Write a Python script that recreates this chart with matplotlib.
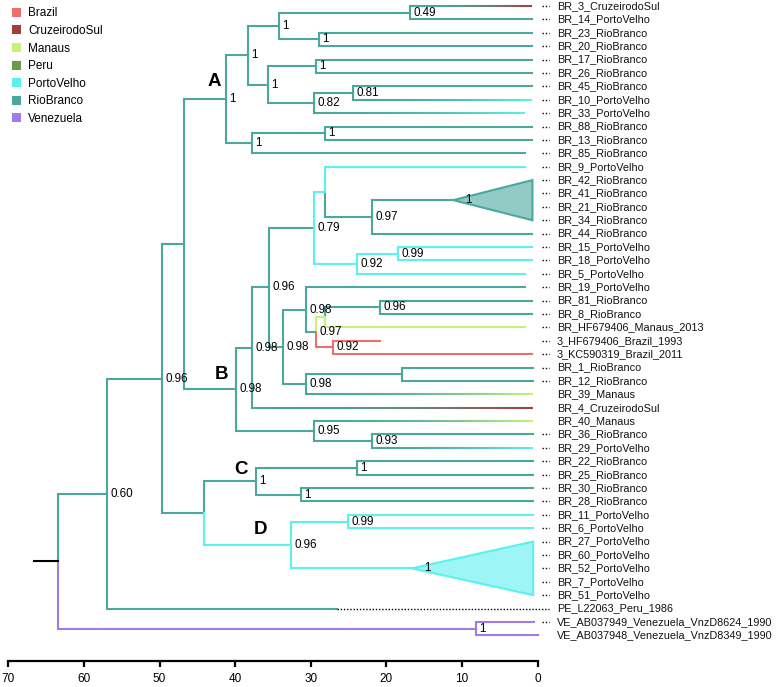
import numpy as np
import matplotlib
matplotlib.use("Agg")
import matplotlib.pyplot as plt
from matplotlib.collections import LineCollection
from matplotlib.colors import to_rgb
from matplotlib.patches import Patch, Polygon

plt.rcParams['font.family'] = ['Liberation Sans', 'DejaVu Sans']

# sampling locations and their colours
states = ["Brazil", "CruzeirodoSul", "Manaus", "Peru", "PortoVelho", "RioBranco", "Venezuela"]
state_colors = ["#ee6e6e", "#a63d3d", "#c6f27c", "#6b9a4f", "#5cf0ee", "#4aa89e", "#a27ae8"]

# tips, top to bottom
tip_names = [
    "BR_3_CruzeirodoSul", "BR_14_PortoVelho", "BR_23_RioBranco", "BR_20_RioBranco",
    "BR_17_RioBranco", "BR_26_RioBranco", "BR_45_RioBranco", "BR_10_PortoVelho",
    "BR_33_PortoVelho", "BR_88_RioBranco", "BR_13_RioBranco", "BR_85_RioBranco",
    "BR_9_PortoVelho", "BR_42_RioBranco", "BR_41_RioBranco", "BR_21_RioBranco",
    "BR_34_RioBranco", "BR_44_RioBranco", "BR_15_PortoVelho", "BR_18_PortoVelho",
    "BR_5_PortoVelho", "BR_19_PortoVelho", "BR_81_RioBranco", "BR_8_RioBranco",
    "BR_HF679406_Manaus_2013", "3_HF679406_Brazil_1993", "3_KC590319_Brazil_2011",
    "BR_1_RioBranco", "BR_12_RioBranco", "BR_39_Manaus", "BR_4_CruzeirodoSul",
    "BR_40_Manaus", "BR_36_RioBranco", "BR_29_PortoVelho", "BR_22_RioBranco",
    "BR_25_RioBranco", "BR_30_RioBranco", "BR_28_RioBranco", "BR_11_PortoVelho",
    "BR_6_PortoVelho", "BR_27_PortoVelho", "BR_60_PortoVelho", "BR_52_PortoVelho",
    "BR_7_PortoVelho", "BR_51_PortoVelho", "PE_L22063_Peru_1986",
    "VE_AB037949_Venezuela_VnzD8624_1990", "VE_AB037948_Venezuela_VnzD8349_1990",
]
tip_ages = [0.7, 0.7, 0.7, 0.7, 0.7, 0.7, 0.7, 0.7, 1.7, 0.7, 0.7, 1.7,
            1.7, 0.7, 0.7, 0.7, 0.7, 0.7, 0.7, 0.7, 1.7, 1.7, 0.7, 0.7,
            1.7, 20.85, 0.7, 0.6, 0.6, 0.6, 0.6, 0.6, 0.6, 0.6, 0.6, 0.6,
            0.6, 0.6, 0.6, 0.6, 0.6, 0.6, 0.6, 0.6, 0.6, 26.6, 0.5, 0.0]
tip_states = ["CruzeirodoSul", "RioBranco", "RioBranco", "RioBranco", "RioBranco", "RioBranco",
              "RioBranco", "PortoVelho", "PortoVelho", "RioBranco", "RioBranco", "RioBranco",
              "PortoVelho", "RioBranco", "RioBranco", "RioBranco", "RioBranco", "RioBranco",
              "PortoVelho", "PortoVelho", "PortoVelho", "RioBranco", "RioBranco", "RioBranco",
              "Manaus", "Brazil", "Brazil", "RioBranco", "RioBranco", "Manaus",
              "CruzeirodoSul", "Manaus", "RioBranco", "PortoVelho", "RioBranco", "RioBranco",
              "RioBranco", "RioBranco", "PortoVelho", "PortoVelho", "PortoVelho", "PortoVelho",
              "PortoVelho", "PortoVelho", "PortoVelho", "RioBranco", "Venezuela", "Venezuela"]
tip_parents = ["n1", "n1", "n2", "n2", "n4", "n4", "n5", "n5", "n6", "n9", "n9", "n10",
               "n325", "tri1", "tri1", "tri1", "tri1", "n97a", "n99a", "n99a", "n92", "n98b",
               "n96b", "n96b", "x1", "bra", "bra", "n112", "n112", "n98c", "B1", "n95",
               "n93", "n93", "C1", "C1", "C2", "C2", "n99b", "n99b", "tri2", "tri2", "tri2",
               "tri2", "tri2", "n60", "ve", "ve"]
no_leader = ["BR_39_Manaus", "BR_4_CruzeirodoSul", "BR_40_Manaus",
             "VE_AB037948_Venezuela_VnzD8349_1990"]
long_leader = ["PE_L22063_Peru_1986"]

# internal nodes (age in years before present)
node_ids = ["root", "n60", "ve", "X", "Y", "A", "n8", "n3", "n1", "n2", "n7", "n4", "n6", "n5",
            "n10", "n9", "B", "B1", "n96", "n79", "n325", "n97a", "tri1", "n92", "n99a",
            "n98a", "n98b", "n97b", "x1", "n96b", "bra", "n98c", "n112", "n95", "n93",
            "CD", "C", "C1", "C2", "D", "n99b", "tri2"]
node_parents = [None, "root", "root", "n60", "X", "Y", "A", "n8", "n3", "n3", "n8", "n7", "n7", "n6",
                "A", "n10", "Y", "B", "B1", "n96", "n79", "n325", "n97a", "n79", "n92",
                "n96", "n98a", "n98b", "n97b", "x1", "n97b", "n98a", "n98c", "B", "n95",
                "X", "CD", "C", "C", "CD", "D", "D"]
node_ages = [63.47, 56.91, 8.16, 49.64, 46.73, 41.21, 38.34, 34.21, 16.88, 28.92, 35.70, 29.35,
             29.54, 24.38, 37.82, 28.12, 39.93, 37.82, 35.53, 29.54, 28.12, 21.87, 11.16,
             23.93, 18.43, 33.64, 30.64, 29.35, 28.12, 20.85, 27.03, 30.64, 17.98, 29.54,
             21.87, 44.11, 37.25, 23.93, 31.34, 32.62, 25.04, 16.66]
node_states = ["RioBranco", "RioBranco", "Venezuela", "RioBranco", "RioBranco", "RioBranco",
               "RioBranco", "RioBranco", "RioBranco", "RioBranco", "RioBranco", "RioBranco",
               "RioBranco", "RioBranco", "RioBranco", "RioBranco", "RioBranco", "RioBranco",
               "RioBranco", "RioBranco", "PortoVelho", "RioBranco", "RioBranco", "PortoVelho",
               "PortoVelho", "RioBranco", "RioBranco", "RioBranco", "Manaus", "RioBranco",
               "Brazil", "RioBranco", "RioBranco", "RioBranco", "RioBranco", "RioBranco",
               "RioBranco", "RioBranco", "RioBranco", "PortoVelho", "PortoVelho", "PortoVelho"]
node_support = ["", "0.60", "1", "0.96", "", "1", "1", "1", "0.49", "1", "1", "1", "0.82", "0.81",
                "1", "1", "0.98", "0.98", "0.96", "0.79", "", "0.97", "1", "0.92", "0.99",
                "0.98", "0.98", "0.97", "", "0.96", "0.92", "0.98", "", "0.95", "0.93",
                "", "1", "1", "1", "0.96", "0.99", "1"]
collapsed = ["tri1", "tri2"]
clade_letters = ["A", "B", "C", "D"]
letter_offsets = [(-8.6, 13.0), (-9.9, 10.8), (-10.8, 8.6), (-22.3, 11.2)]

color_of = dict(zip(states, state_colors))
age = dict(zip(node_ids, node_ages))
state = dict(zip(node_ids, node_states))
LW = 1.5

children = {n: [] for n in node_ids}
for i, p in enumerate(tip_parents):
    children[p].append(("tip", i))
for n, p in zip(node_ids, node_parents):
    if p is not None:
        children[p].append(("node", n))

ypos = {}


def node_y(n):
    ys = [c if kind == "tip" else node_y(c) for kind, c in children[n]]
    ypos[n] = (min(ys) + max(ys)) / 2
    return ypos[n]


node_y("root")


def gradient_line(ax, t0, t1, y, c0, c1, n=40):
    ts = np.linspace(t0, t1, n + 1)
    segs = [[(ts[k], y), (ts[k + 1], y)] for k in range(n)]
    w = ((np.arange(n) + 0.5) / n) ** 2
    c0, c1 = np.array(to_rgb(c0)), np.array(to_rgb(c1))
    cols = [(1 - wi) * c0 + wi * c1 for wi in w]
    ax.add_collection(LineCollection(segs, colors=cols, linewidths=LW, capstyle="butt", zorder=2))


def draw_branch(ax, pt, py, ct, cy, pstate, cstate, gradient):
    pc, cc = color_of[pstate], color_of[cstate]
    if gradient and pstate != cstate:
        ax.plot([pt, pt], [py, cy], color=pc, lw=LW, solid_capstyle="projecting", zorder=2)
        gradient_line(ax, pt, ct, cy, pc, cc)
    else:
        ax.plot([pt, pt, ct], [py, cy, cy], color=cc, lw=LW,
                solid_capstyle="projecting", solid_joinstyle="miter", zorder=2)


fig = plt.figure(figsize=(7.78, 6.87), dpi=100)
ax = fig.add_axes([0, 0, 1, 1])
ax.set_xlim(71.10, -31.77)
ax.set_ylim(50.86, -0.448)
ax.axis("off")

# internal branches
for n, p in zip(node_ids, node_parents):
    if p is None:
        continue
    draw_branch(ax, age[p], ypos[p], age[n], ypos[n], state[p], state[n], False)

# tip branches
for i, p in enumerate(tip_parents):
    if p in collapsed:
        continue
    draw_branch(ax, age[p], ypos[p], tip_ages[i], i, state[p], tip_states[i], True)

# collapsed clades
for n in collapsed:
    rows = [i for i, p in enumerate(tip_parents) if p == n]
    right = min(tip_ages[i] for i in rows)
    c = np.array(to_rgb(color_of[state[n]]))
    fill = 0.6 * c + 0.4 * np.ones(3)
    ax.add_patch(Polygon([(age[n], ypos[n]), (right, rows[0]), (right, rows[-1])],
                         closed=True, facecolor=fill, edgecolor=color_of[state[n]],
                         lw=LW, zorder=2))

# root stub
ax.plot([66.6, age["root"]], [ypos["root"], ypos["root"]], color="black", lw=LW, zorder=2)

# support values
for n, s in zip(node_ids, node_support):
    if not s:
        continue
    dx = 1.6 if n in collapsed else 0.45
    ax.text(age[n] - dx, ypos[n], s, fontsize=8.4, ha="left", va="center", zorder=3)

# clade letters
for letter, off in zip(clade_letters, letter_offsets):
    ax.annotate(letter, (age[letter], ypos[letter]), xytext=off, textcoords="offset points",
                fontsize=13.5, fontweight="bold", ha="center", va="center")

# tip labels and leaders
for i, name in enumerate(tip_names):
    ax.text(-2.55, i, name, fontsize=7.8, ha="left", va="center", color="#111111")
    if name in no_leader:
        continue
    start = tip_ages[i] if name in long_leader else -0.55
    ax.plot([start, -1.55], [i, i], color="black", lw=1.0, linestyle=(0, (1.0, 1.3)), zorder=2)

# legend
handles = [Patch(facecolor=c, edgecolor="none") for c in state_colors]
fig.legend(handles, states, loc="upper left", bbox_to_anchor=(12 / 778, 1 - 7.5 / 687),
           frameon=False, fontsize=8.5, handlelength=0.8, handleheight=0.8,
           handletextpad=0.55, labelspacing=0.47, borderaxespad=0, borderpad=0)

# time scale
sax = fig.add_axes([0, 1 - 660.5 / 687, 1, 1e-4])
sax.set_xlim(ax.get_xlim())
sax.set_xticks(range(0, 80, 10))
for side in ["top", "left", "right"]:
    sax.spines[side].set_visible(False)
sax.spines["bottom"].set_bounds(0, 70)
sax.spines["bottom"].set_linewidth(1.6)
sax.tick_params(axis="x", direction="out", length=4, width=1.6, pad=5, labelsize=8.5)
sax.set_yticks([])
sax.patch.set_visible(False)

fig.savefig("out.png", dpi=100)
